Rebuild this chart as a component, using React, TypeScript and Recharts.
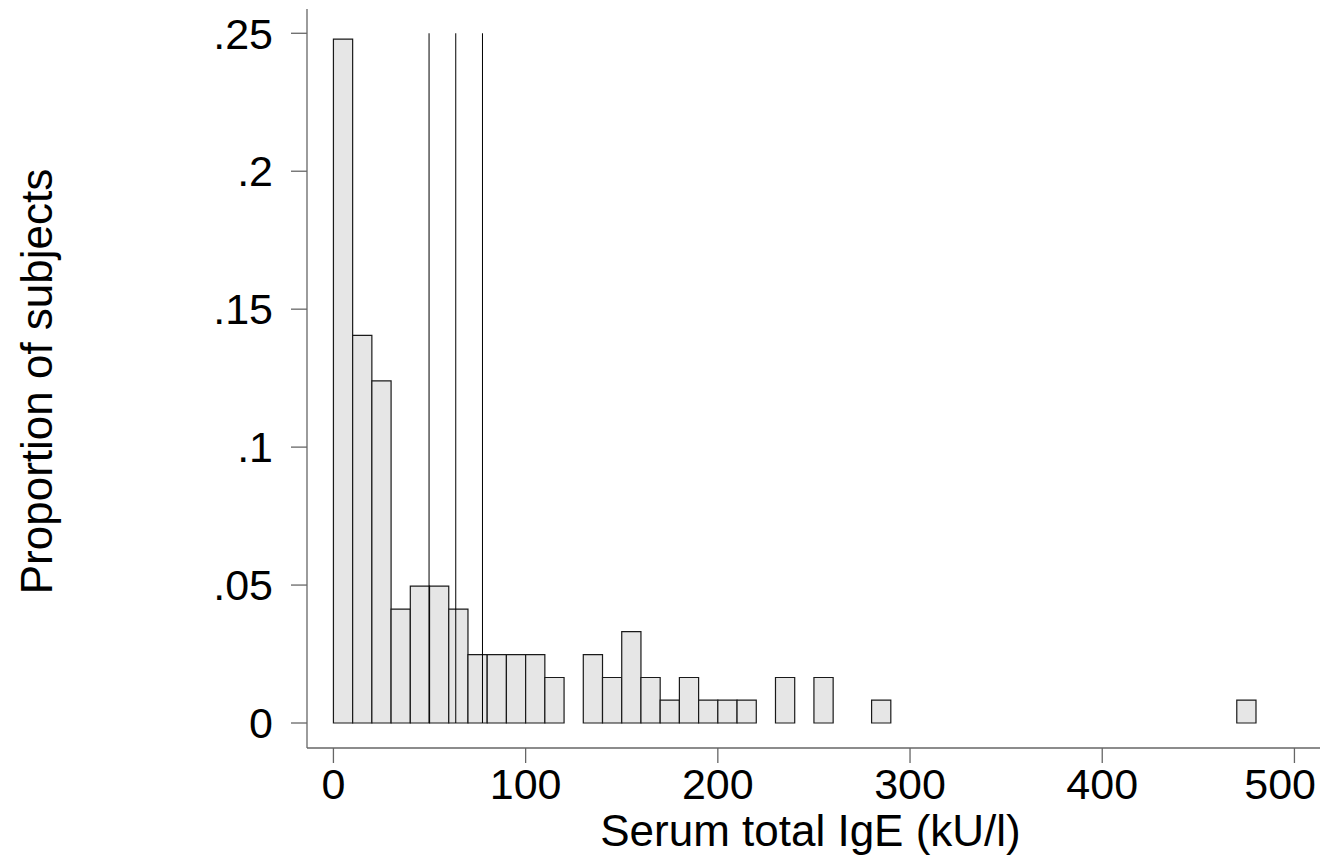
import {
  ComposedChart, Line, XAxis, YAxis, ReferenceArea, ReferenceLine, Label
} from 'recharts';

// histogram bins (lower edge, kU/l) and proportion of subjects in each
const binStart = [0, 10, 20, 30, 40, 50, 60, 70, 80, 90, 100, 110, 130, 140, 150, 160, 170, 180, 190, 200, 210, 230, 250, 280, 470];
const proportion = [
  0.2479, 0.1405, 0.124, 0.0413, 0.0496, 0.0496, 0.0413, 0.0248, 0.0248, 0.0248, 0.0248, 0.0165,
  0.0248, 0.0165, 0.0331, 0.0165, 0.0083, 0.0165, 0.0083, 0.0083, 0.0083,
  0.0165, 0.0165, 0.0083, 0.0083,
];
const binWidth = 10;

// vertical reference lines
const markers = [49.75, 63.65, 77.55];
const markerTop = 0.25;

const xTicks = [0, 100, 200, 300, 400, 500];
const yTicks = [0, 0.05, 0.1, 0.15, 0.2, 0.25];

const data = binStart.map((s, i) => ({ mid: s + binWidth / 2, p: proportion[i] }));

const FONT = '"Liberation Sans", Arial, sans-serif';
const AXIS = '#666';

const fmtY = (v: number) => (v === 0 ? '0' : String(v).replace(/^0/, ''));

// x tick label; the last one is pulled in so it stays inside the page
const XTick = ({ x, y, payload }: any) => {
  const last = payload.value === xTicks[xTicks.length - 1];
  return (
    <text
      x={last ? Math.min(x + 35, 1316) : x}
      y={y}
      dy="0.71em"
      textAnchor={last ? 'end' : 'middle'}
      fontSize={43}
      fontFamily={FONT}
      fill="#000"
    >
      {payload.value}
    </text>
  );
};

export default function App() {
  return (
    <div style={{ position: 'absolute', left: 0, top: 0 }}>
      <ComposedChart
        width={1325}
        height={858}
        data={data}
        margin={{ top: 9, right: 5, bottom: 10, left: 0 }}
      >
        <XAxis
          dataKey="mid"
          type="number"
          domain={[-13.75, 513.3]}
          allowDataOverflow
          ticks={xTicks}
          height={100}
          tickSize={15}
          tickMargin={5}
          stroke={AXIS}
          strokeWidth={1.3}
          tick={<XTick />}
        >
          <Label
            content={({ viewBox }: any) => (
              <text
                x={viewBox.x + viewBox.width / 2 - 3}
                y={846}
                textAnchor="middle"
                fontSize={44}
                fontFamily={FONT}
                fill="#000"
              >
                Serum total IgE (kU/l)
              </text>
            )}
          />
        </XAxis>
        <YAxis
          type="number"
          domain={[-0.00906, 0.2588]}
          allowDataOverflow
          ticks={yTicks}
          tickFormatter={fmtY}
          width={307}
          tickSize={16}
          tickMargin={18}
          stroke={AXIS}
          strokeWidth={1.3}
          tick={{ fontSize: 43, fill: '#000', fontFamily: FONT }}
        >
          <Label
            content={({ viewBox }: any) => {
              const cx = 52;
              const cy = viewBox.y + viewBox.height / 2 + 3;
              return (
                <text
                  x={cx}
                  y={cy}
                  transform={`rotate(-90, ${cx}, ${cy})`}
                  textAnchor="middle"
                  fontSize={44}
                  fontFamily={FONT}
                  fill="#000"
                >
                  Proportion of subjects
                </text>
              );
            }}
          />
        </YAxis>
        {markers.map((m) => (
          <ReferenceLine
            key={m}
            segment={[{ x: m, y: 0 }, { x: m, y: markerTop }]}
            stroke="#000"
            strokeWidth={1}
          />
        ))}
        {binStart.map((s, i) => (
          <ReferenceArea
            key={s}
            x1={s}
            x2={s + binWidth}
            y1={0}
            y2={proportion[i]}
            fill="#e6e6e6"
            fillOpacity={1}
            stroke="#1a1a1a"
            strokeWidth={1.2}
          />
        ))}
        <Line dataKey="p" stroke="none" dot={false} activeDot={false} isAnimationActive={false} />
      </ComposedChart>
    </div>
  );
}
